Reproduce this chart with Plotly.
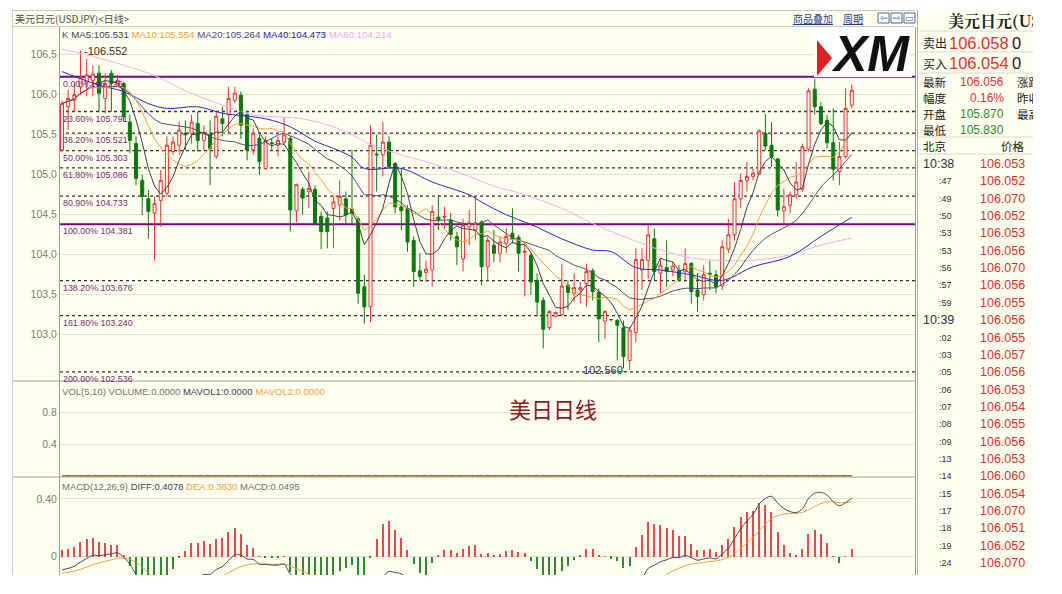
import numpy as np
import pandas as pd
import plotly.graph_objects as go

# ---------------- data ----------------
opens = [105.31, 105.85, 105.93, 106.10, 106.15, 106.18, 106.27, 105.955, 106.27, 106.12,
         106.14, 105.66, 105.39, 104.93, 104.70, 104.52, 104.68, 104.77, 105.29, 105.37,
         105.52, 105.52, 105.64, 105.43, 105.50, 105.23, 105.70, 105.75, 105.93, 105.995,
         105.75, 105.31, 105.455, 105.08, 105.40, 105.37, 105.41, 105.455, 104.55, 104.82,
         104.79, 104.82, 104.48, 104.46, 104.58, 104.62, 104.70, 104.57, 104.45, 103.60,
         103.35, 105.26, 105.25, 105.41, 105.14, 104.60, 104.58, 104.18, 103.80, 103.78,
         103.81, 104.47, 104.47, 104.43, 104.23, 103.95, 104.35, 104.31, 104.41, 103.85,
         104.12, 104.02, 104.14, 104.27, 104.22, 104.03, 103.99, 103.68, 103.43, 103.09,
         103.23, 103.25, 103.62, 103.52, 103.56, 103.64, 103.80, 103.53, 103.17, 103.19,
         103.18, 103.09, 102.68, 103.03, 103.81, 103.93, 104.20, 103.77, 103.84, 103.81,
         103.80, 103.79, 103.89, 103.56, 103.50, 103.77, 103.75, 103.61, 104.07, 104.25,
         104.70, 104.93, 104.98, 105.01, 105.52, 105.37, 105.20, 104.55, 104.62, 104.75,
         104.82, 105.32, 106.07, 105.85, 105.68, 105.40, 105.04, 105.23, 105.87]
highs = [105.93, 106.06, 106.14, 106.552, 106.45, 106.37, 106.37, 106.27, 106.31, 106.25,
         106.16, 105.75, 105.48, 105.00, 104.81, 104.73, 105.06, 105.48, 105.48, 105.66,
         105.68, 105.75, 105.79, 105.62, 105.68, 105.79, 105.85, 106.10, 106.10, 106.04,
         105.79, 105.58, 105.50, 105.48, 105.46, 105.48, 105.72, 105.48, 104.89, 104.85,
         105.04, 104.87, 104.54, 104.54, 104.73, 104.93, 104.79, 105.31, 104.48, 103.75,
         105.62, 105.50, 105.66, 105.48, 105.16, 105.08, 104.62, 104.23, 104.02, 103.93,
         104.62, 104.75, 104.60, 104.52, 104.29, 104.45, 104.56, 104.73, 104.43, 104.23,
         104.31, 104.23, 104.33, 104.58, 104.25, 104.14, 104.02, 103.77, 103.47, 103.31,
         103.29, 103.89, 103.68, 103.77, 103.66, 103.89, 103.83, 103.58, 103.31, 103.20,
         103.20, 103.18, 103.10, 104.08, 104.08, 104.37, 104.33, 103.95, 104.18, 103.91,
         103.87, 104.08, 103.91, 103.77, 103.87, 103.93, 103.81, 104.18, 104.45, 104.91,
         105.02, 105.16, 105.08, 105.57, 105.76, 105.66, 105.20, 104.83, 104.79, 105.16,
         105.39, 106.08, 106.20, 105.91, 105.75, 105.83, 105.41, 106.08, 106.13]
lows = [105.29, 105.56, 105.79, 106.00, 105.98, 105.98, 105.79, 105.77, 105.79, 106.12,
        105.66, 105.27, 104.87, 104.50, 104.20, 103.93, 104.35, 104.73, 105.25, 105.25,
        105.31, 105.39, 105.29, 105.31, 104.87, 105.20, 105.48, 105.52, 105.90, 105.45,
        105.18, 105.25, 105.00, 105.06, 105.30, 105.23, 105.38, 104.29, 104.41, 104.50,
        104.58, 104.37, 104.07, 104.08, 104.08, 104.43, 104.39, 104.39, 103.39, 103.14,
        103.16, 104.79, 104.98, 105.08, 104.52, 104.31, 104.04, 103.60, 103.68, 103.66,
        103.60, 104.31, 104.33, 104.18, 103.87, 103.79, 104.12, 104.18, 103.62, 103.68,
        103.91, 103.91, 104.02, 104.14, 103.79, 103.48, 103.50, 103.23, 102.83, 103.06,
        103.22, 103.23, 103.31, 103.41, 103.39, 103.35, 103.43, 102.91, 102.95, 103.17,
        102.68, 102.58, 102.56, 102.91, 103.56, 103.70, 103.68, 103.52, 103.60, 103.73,
        103.66, 103.68, 103.39, 103.29, 103.43, 103.56, 103.52, 103.56, 104.02, 104.18,
        104.58, 104.79, 104.93, 105.00, 105.31, 105.10, 104.48, 104.39, 104.52, 104.70,
        104.79, 105.29, 105.75, 105.62, 105.33, 104.93, 104.87, 105.20, 105.83]
closes = [105.89, 105.955, 106.00, 106.22, 106.25, 106.26, 106.02, 106.14, 106.14, 106.18,
          105.73, 105.43, 104.955, 104.73, 104.54, 104.64, 104.93, 105.37, 105.41, 105.56,
          105.50, 105.66, 105.43, 105.52, 105.33, 105.73, 105.64, 105.955, 106.02, 105.62,
          105.31, 105.52, 105.165, 105.43, 105.39, 105.43, 105.50, 104.56, 104.88, 104.71,
          104.83, 104.39, 104.29, 104.29, 104.66, 104.73, 104.50, 104.52, 103.52, 103.35,
          105.37, 105.25, 105.41, 105.10, 104.60, 104.55, 104.16, 103.79, 103.73, 103.82,
          104.54, 104.43, 104.48, 104.25, 104.10, 104.37, 104.40, 104.40, 103.85, 104.18,
          104.02, 104.16, 104.23, 104.20, 104.02, 104.04, 103.66, 103.41, 103.07, 103.29,
          103.28, 103.61, 103.53, 103.59, 103.59, 103.79, 103.54, 103.20, 103.29, 103.19,
          103.12, 102.73, 103.06, 103.94, 103.94, 104.25, 103.79, 103.87, 103.79, 103.86,
          103.68, 103.89, 103.54, 103.48, 103.75, 103.76, 103.60, 104.10, 104.25, 104.70,
          104.93, 104.98, 105.02, 105.55, 105.36, 105.23, 104.56, 104.60, 104.75, 104.91,
          105.35, 106.05, 105.85, 105.64, 105.40, 105.07, 105.23, 105.83, 106.056]

ma40_idx = [0, 6, 10, 14, 17, 22, 26, 33, 37, 41, 44, 47, 49, 55, 60, 66, 68, 72, 76, 81,
            86, 89, 93, 97, 102, 107, 112, 118, 123, 128]
ma40_val = [106.29, 106.12, 106.04, 105.89, 105.83, 105.85, 105.77, 105.70, 105.60, 105.42,
            105.33, 105.22, 105.08, 105.08, 104.91, 104.75, 104.66, 104.50, 104.38, 104.20,
            104.06, 104.04, 103.84, 103.81, 103.75, 103.68, 103.85, 103.98, 104.23, 104.47]
ma60_idx = [0, 5, 10, 15, 20, 25, 31, 36, 39, 44, 47, 50, 55, 60, 66, 70, 75, 81, 86, 92,
            97, 102, 107, 112, 118, 123, 128]
ma60_val = [106.57, 106.48, 106.37, 106.24, 106.05, 105.90, 105.75, 105.72, 105.70, 105.60,
            105.50, 105.38, 105.25, 105.14, 104.98, 104.86, 104.75, 104.58, 104.39, 104.20,
            104.06, 103.96, 103.93, 103.93, 104.00, 104.12, 104.21]

# MACD state at the first bar
diff_start = -0.10
dea_start = -0.12

fib_pcts = ["0.00%", "23.60%", "38.20%", "50.00%", "61.80%", "80.90%", "100.00%",
            "138.20%", "161.80%", "200.00%"]
fib_levels = [106.226, 105.791, 105.521, 105.303, 105.086, 104.733, 104.381,
              103.676, 103.240, 102.536]

price_ticks = [103.0, 103.5, 104.0, 104.5, 105.0, 105.5, 106.0, 106.5]
vol_ticks = [0.4, 0.8]
macd_ticks = [0.0, 0.4]
macd_ticktext = ["0", "0.40"]

high_label = "106.552"
low_label = "102.560"

ma_legend = [("K", "#505050"), ("MA5:105.531", "#3A3F55"), ("MA10:105.554", "#F0A040"),
             ("MA20:105.264", "#5A3A8A"), ("MA40:104.473", "#2020C8"), ("MA60:104.214", "#F0A8F0")]
vol_legend = [("VOL(5,10) VOLUME:0.0000", "#707070"), ("MAVOL1:0.0000", "#3A3F55"),
              ("MAVOL2:0.0000", "#F0A040")]
macd_legend = [("MACD(12,26,9)", "#707070"), ("DIFF:0.4078", "#3A3F55"),
               ("DEA:0.3830", "#F0A040"), ("MACD:0.0495", "#707070")]

quote_rows = [("卖出", "106.058", "0"), ("买入", "106.054", "0")]
info_rows = [("最新", "106.056", "#E03030", "涨跌"), ("幅度", "0.16%", "#E03030", "昨收"),
             ("开盘", "105.870", "#2A8A2A", "最高"), ("最低", "105.830", "#2A8A2A", "")]
tick_times = ["10:38", ":47", ":49", ":50", ":53", ":53", ":56", ":57", ":59", "10:39",
              ":02", ":03", ":05", ":06", ":07", ":08", ":09", ":13", ":14", ":15",
              ":17", ":18", ":19", ":24"]
tick_prices = ["106.053", "106.052", "106.070", "106.052", "106.053", "106.056", "106.070",
               "106.056", "106.055", "106.056", "106.055", "106.057", "106.056", "106.053",
               "106.054", "106.055", "106.056", "106.053", "106.060", "106.054", "106.070",
               "106.051", "106.052", "106.070"]

# ---------------- derived ----------------
n = len(closes)
idx = np.arange(n)
cs = pd.Series(closes)
ma5 = cs.rolling(5, min_periods=1).mean()
ma10 = cs.rolling(10, min_periods=1).mean()
ma20 = cs.rolling(20, min_periods=1).mean()

a12, a26, a9 = 2 / 13, 2 / 27, 2 / 10
e12, e26, dea = closes[0], closes[0] - diff_start, dea_start
diffs, deas = [], []
for c in closes:
    e12 = a12 * c + (1 - a12) * e12
    e26 = a26 * c + (1 - a26) * e26
    d = e12 - e26
    dea = a9 * d + (1 - a9) * dea
    diffs.append(d)
    deas.append(dea)
diffs = np.array(diffs)
deas = np.array(deas)
macd = 2 * (diffs - deas)

# ---------------- geometry ----------------
OFF = 8                      # page body margin
W, H = 1044, 576             # figure size
CREAM = "#FFFFF0"
FONT = "Liberation Sans"
CJK = "Noto Sans CJK SC"


def px(X):
    return (X - OFF) / W


def py(Y):
    return 1 - (Y - OFF) / H


X0, X1 = 60, 915
x_range = [(X0 - 62) / 6.17, (X1 - 62) / 6.17]

fig = go.Figure()

fig.add_trace(go.Candlestick(
    x=idx, open=opens, high=highs, low=lows, close=closes,
    increasing=dict(line=dict(color="#F03030", width=1), fillcolor=CREAM),
    decreasing=dict(line=dict(color="#087A08", width=1), fillcolor="#087A08"),
    whiskerwidth=0, showlegend=False, hoverinfo="skip", xaxis="x", yaxis="y"))

fig.add_trace(go.Scatter(x=ma60_idx, y=ma60_val, mode="lines", line=dict(color="#F2AEEE", width=1, shape="spline"),
                         xaxis="x", yaxis="y", showlegend=False))
fig.add_trace(go.Scatter(x=ma40_idx, y=ma40_val, mode="lines", line=dict(color="#2828C8", width=1, shape="spline"),
                         xaxis="x", yaxis="y", showlegend=False))
fig.add_trace(go.Scatter(x=idx, y=ma20, mode="lines", line=dict(color="#5A4A7A", width=1),
                         xaxis="x", yaxis="y", showlegend=False))
fig.add_trace(go.Scatter(x=idx, y=ma10, mode="lines", line=dict(color="#F0A040", width=1),
                         xaxis="x", yaxis="y", showlegend=False))
fig.add_trace(go.Scatter(x=idx, y=ma5, mode="lines", line=dict(color="#3A3F4A", width=1),
                         xaxis="x", yaxis="y", showlegend=False))

# volume panel (all zero)
zeros = np.zeros(n)
fig.add_trace(go.Scatter(x=idx, y=zeros, mode="lines", line=dict(color="#2E8B2E", width=1.5),
                         xaxis="x", yaxis="y2", showlegend=False))
fig.add_trace(go.Scatter(x=idx, y=zeros, mode="lines", line=dict(color="#FF5A20", width=1.5, dash="4px,3px"),
                         xaxis="x", yaxis="y2", showlegend=False))

# MACD panel
bar_colors = ["#E84848" if v >= 0 else "#2E8B2E" for v in macd]
fig.add_trace(go.Bar(x=idx, y=macd, marker=dict(color=bar_colors, line=dict(width=0)), width=0.2,
                     xaxis="x", yaxis="y3", showlegend=False))
fig.add_trace(go.Scatter(x=idx, y=deas, mode="lines", line=dict(color="#F0A040", width=1, shape="spline"),
                         xaxis="x", yaxis="y3", showlegend=False))
fig.add_trace(go.Scatter(x=idx, y=diffs, mode="lines", line=dict(color="#3A4A5C", width=1, shape="spline"),
                         xaxis="x", yaxis="y3", showlegend=False))

shapes = []
# white outer margins
for (xa, ya, xb, yb) in [(8, 8, 1052, 10), (8, 8, 12, 584), (1033, 8, 1052, 584), (8, 575, 1052, 584)]:
    shapes.append(dict(type="rect", xref="paper", yref="paper", x0=px(xa), x1=px(xb), y0=py(yb), y1=py(ya),
                       fillcolor="white", line=dict(width=0), layer="above"))

# fibonacci levels
for pct, lv in zip(fib_pcts, fib_levels):
    solid = pct in ("0.00%", "100.00%")
    shapes.append(dict(type="line", xref="x", yref="y", x0=x_range[0], x1=x_range[1], y0=lv, y1=lv,
                       line=dict(color="#800080" if solid else "#3A2A40", width=2 if solid else 1.3,
                                 dash="solid" if solid else "3px,3px"), layer="below"))

# MACD zero line
shapes.append(dict(type="line", xref="x", yref="y3", x0=x_range[0], x1=x_range[1], y0=0, y1=0,
                   line=dict(color="#9A9A9A", width=1, dash="2px,3px"), layer="below"))


def hline(Y, xa, xb, color="#A8A8A8", w=1):
    shapes.append(dict(type="line", xref="paper", yref="paper", x0=px(xa), x1=px(xb), y0=py(Y), y1=py(Y),
                       line=dict(color=color, width=w), layer="above"))


def vline(X, ya, yb, color="#A8A8A8", w=1):
    shapes.append(dict(type="line", xref="paper", yref="paper", x0=px(X), x1=px(X), y0=py(ya), y1=py(yb),
                       line=dict(color=color, width=w), layer="above"))


hline(10.5, 12, 915, "#C8C8C8")
hline(26.5, 12, 915, "#C8C8C8")
hline(381, 12, 915, "#A0A0A0")
hline(477, 12, 915, "#A0A0A0")
vline(12.5, 10, 575, "#D0D0D0")
vline(917.5, 10, 575, "#B0B0B0")

# right panel separators
for Y in [31, 52, 73, 137, 154]:
    hline(Y, 918, 1033, "#D8D8D0")

# header icons
for xa in [878, 891, 904]:
    shapes.append(dict(type="rect", xref="paper", yref="paper", x0=px(xa), x1=px(xa + 11), y0=py(23), y1=py(13),
                       line=dict(color="#4A6AA0", width=1), fillcolor="white", layer="above"))

# XM logo box
shapes.append(dict(type="rect", xref="paper", yref="paper", x0=px(814), x1=px(912), y0=py(77), y1=py(28),
                   fillcolor="white", line=dict(width=0), layer="above"))
shapes.append(dict(type="path", xref="paper", yref="paper",
                   path=f"M {px(817)},{py(40)} L {px(832)},{py(58)} L {px(817)},{py(76)} Z",
                   fillcolor="#E02020", line=dict(width=0), layer="above"))

annotations = []


def ann(X, Y, text, size, color, xanchor="left", family=FONT, yanchor="middle", **kw):
    annotations.append(dict(xref="paper", yref="paper", x=px(X), y=py(Y), text=text, showarrow=False,
                            xanchor=xanchor, yanchor=yanchor,
                            font=dict(size=size, color=color, family=family), **kw))


def spans(parts, sep=" "):
    return sep.join(f"<span style='color:{c}'>{t}</span>" for t, c in parts)


# header
ann(13, 18.5, "美元日元(USDJPY)&lt;日线&gt;", 10, "#505050", family=CJK)
ann(791, 18.5, "<u>商品叠加</u>", 10, "#1A3A9A", family=CJK)
ann(841, 18.5, "<u>周期</u>", 10, "#1A3A9A", family=CJK)
for xa, sym in zip([878, 891, 904], ["⇦", "⇨", "▭"]):
    ann(xa + 5.5, 18, sym, 9, "#3A5A90", xanchor="center", family="DejaVu Sans")

# legends
ann(60, 34.5, spans(ma_legend), 9.7, "#505050")
ann(60, 391.5, spans(vol_legend), 9.5, "#707070")
ann(60, 486.5, spans(macd_legend), 9.5, "#707070")

# fib labels
for pct, lv in zip(fib_pcts, fib_levels):
    annotations.append(dict(xref="x", yref="y", x=0, y=lv, text=f"{pct} {lv:.3f}", showarrow=False,
                            xanchor="left", yanchor="top", xshift=-1, yshift=0,
                            font=dict(size=8.9, color="#7A2A72", family=FONT)))

# high / low labels
hi_k = int(np.argmax(highs))
lo_k = int(np.argmin(lows))
annotations.append(dict(xref="x", yref="y", x=hi_k, y=highs[hi_k], text="-" + high_label, showarrow=False,
                        xanchor="left", yanchor="middle", xshift=1,
                        font=dict(size=11, color="#303030", family=FONT)))
annotations.append(dict(xref="x", yref="y", x=lo_k, y=lows[lo_k], text=low_label + "-", showarrow=False,
                        xanchor="right", yanchor="middle", xshift=-1,
                        font=dict(size=11, color="#303030", family=FONT)))

# watermark text
ann(553, 408, "美日日线", 22, "#8B1A1A", xanchor="center", family=CJK)

# XM logo text
ann(870, 54, "<b><i>XM</i></b>", 50, "#111111", xanchor="center", family="Liberation Sans")

# right panel
ann(946, 21, "<b>美元日元(USI</b>", 16, "#202020", family="Noto Serif CJK SC, " + CJK)
for i, (lab, val, z) in enumerate(quote_rows):
    Y = 42.5 + i * 21
    ann(921, Y, lab, 12, "#202020", family=CJK)
    ann(947, Y, val, 16.5, "#E03030")
    ann(1010, Y, z, 16.5, "#202020")
for i, (lab, val, col, lab2) in enumerate(info_rows):
    Y = 82 + i * 16
    ann(921, Y, lab, 11.5, "#202020", family=CJK)
    ann(1006, Y, val, 12, col, xanchor="right")
    if lab2:
        ann(1015, Y, lab2, 11.5, "#202020", family=CJK)
ann(921, 146, "北京", 11.5, "#202020", family=CJK)
ann(1027, 146, "价格", 11.5, "#202020", family=CJK, xanchor="right")
for i, (t, p) in enumerate(zip(tick_times, tick_prices)):
    Y = 164 + i * 17.35
    if t.startswith(":"):
        ann(937, Y, t, 9, "#303040")
    else:
        ann(921, Y, t, 12.5, "#303040")
    ann(1027, Y, p, 12.5, "#E03030", xanchor="right")

# cover overflow on the right edge
annotations.append(dict(xref="paper", yref="paper", x=px(1033), y=1, text=" ", showarrow=False,
                        xanchor="left", yanchor="top", width=1052 - 1033, height=H, bgcolor="white",
                        borderpad=0, borderwidth=0))

axis_common = dict(showgrid=True, gridcolor="#E2E2D4", gridwidth=1, zeroline=False, showline=True,
                   linecolor="#9A9A9A", linewidth=1, mirror=True, ticks="",
                   tickfont=dict(size=10.5, color="#7A7A7A", family=FONT), fixedrange=True)

fig.update_layout(
    width=W, height=H, margin=dict(l=0, r=0, t=0, b=0),
    paper_bgcolor=CREAM, plot_bgcolor=CREAM, showlegend=False, bargap=0,
    xaxis=dict(domain=[px(X0), px(X1)], range=x_range, anchor="y3", showgrid=False, zeroline=False,
               showticklabels=False, showline=False, rangeslider=dict(visible=False), fixedrange=True),
    yaxis=dict(domain=[py(381), py(27)], range=[102.4225, 106.8475], anchor="x",
               tickvals=price_ticks, ticktext=[f"{v:.1f}" for v in price_ticks], **axis_common),
    yaxis2=dict(domain=[py(477), py(381)], range=[-0.016, 1.195], anchor="x",
                tickvals=vol_ticks, ticktext=["0.4", "0.8"], **axis_common),
    yaxis3=dict(domain=[py(575), py(477)], range=[-0.127, 0.5525], anchor="x",
                tickvals=macd_ticks, ticktext=macd_ticktext, **axis_common),
    shapes=shapes, annotations=annotations,
)

fig.write_html("out.html")
